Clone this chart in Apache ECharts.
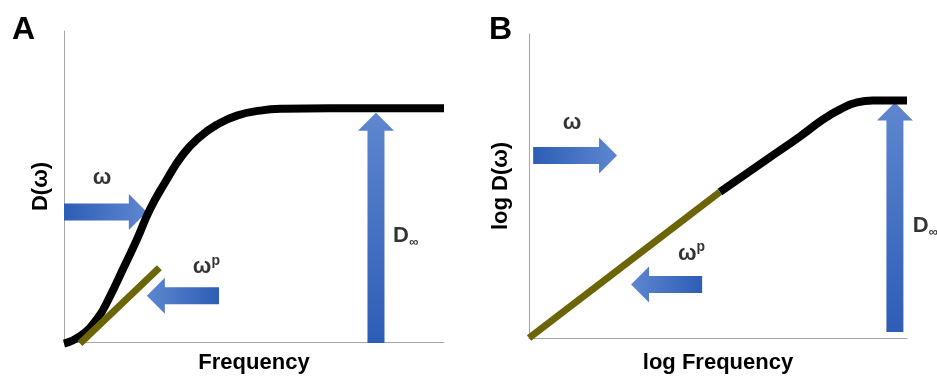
<!DOCTYPE html>
<html><head><meta charset="utf-8">
<script src="https://cdn.jsdelivr.net/npm/echarts@6/dist/echarts.min.js"></script>
<style>html,body{margin:0;padding:0;background:#fff}#c{width:937px;height:379px}</style>
</head><body><div id="c"></div>
<script>
// ---- Panel A : linear axes (arbitrary units 0..100) ----
const curveA = [[0,-0.5],[4.2,1.9],[8.7,7.4],[12.1,14.7],[15.5,23.4],[19.2,33.0],[22.6,42.6],[26.6,51.3],[31.3,60.3],[35.8,66.0],[40.3,69.9],[45.5,72.8],[51.6,74.4],[57.6,75.0],[70,75.2],[100,75.2]];
const tangentA = [[4.2,-0.5],[25.1,23.9]];
// arrows: tail x, tail y, tip x, tip y
const arrowsA = [[0,41.8,21.8,41.8],[40.8,14.9,21.8,14.9],[82.1,-0.3,82.1,73.7]];
const labelNames = ['ω','ωp','D∞'];
const labelPosA = [[10,52.9],[33.9,24.2],[86.6,34.1]];
// ---- Panel B : log-log axes (arbitrary units 0..100) ----
const powerLawB = [[0,0],[50.5,48.0]];
const curveB = [[50.5,48.0],[63.0,58.8],[71.7,66.3],[77.8,71.9],[82.3,75.2],[86.8,77.5],[91.0,78.1],[100,78.1]];
const arrowsB = [[1.1,60,23.3,60],[45.8,17.6,27,17.6],[96.8,2,96.8,77.5]];
const labelPosB = [[11.4,70.9],[39.4,27.8],[101.5,36.9]];
// ---- texts ----
const axisNamesX = ['Frequency','log Frequency'];
const axisNamesY = ['D(ω)','log D(ω)'];
const panelTags = ['A','B'];

const FONT = 'Liberation Sans, Arial, sans-serif';
const chart = echarts.init(document.getElementById('c'), null, {renderer:'canvas'});

function arrowItem(params, api){
  const p0 = api.coord([api.value(0), api.value(1)]);
  const p1 = api.coord([api.value(2), api.value(3)]);
  const dx = p1[0]-p0[0], dy = p1[1]-p0[1];
  const L = Math.hypot(dx,dy);
  const ux = dx/L, uy = dy/L, nx = -uy, ny = ux;
  const sw = 8.5, hw = 18, hl = 18;
  const bx = p1[0]-ux*hl, by = p1[1]-uy*hl;
  const pts = [
    [p0[0]+nx*sw, p0[1]+ny*sw],[bx+nx*sw, by+ny*sw],[bx+nx*hw, by+ny*hw],
    [p1[0], p1[1]],
    [bx-nx*hw, by-ny*hw],[bx-nx*sw, by-ny*sw],[p0[0]-nx*sw, p0[1]-ny*sw]
  ];
  return {
    type:'polygon', shape:{points:pts},
    style:{fill:new echarts.graphic.LinearGradient(p0[0],p0[1],p1[0],p1[1],
      [{offset:0,color:'#2e5db7'},{offset:1,color:'#5e87cf'}], true)}
  };
}

const rich = {
  m:{fontSize:22,fontWeight:'bold',fontFamily:FONT,color:'#000',lineHeight:26},
  sup:{fontSize:14,fontWeight:'bold',fontFamily:FONT,color:'#000',lineHeight:14,verticalAlign:'top'},
  sub:{fontSize:13,fontWeight:'bold',fontFamily:FONT,color:'#000',lineHeight:13,verticalAlign:'bottom'}
};
function fmt(p){
  if (p.name === 'ωp') return '{m|ω}{sup|p}';
  if (p.name === 'D∞') return '{m|D}{sub|∞}';
  return '{m|' + p.name + '}';
}
function labelData(pos){
  return pos.map((v,i)=>({name:labelNames[i], value:v, label:{align: i===0 ? 'center':'left'}}));
}

function axisX(i, name, gap){
  return {gridIndex:i, type:'value', min:0, max:100, name:name, nameLocation:'middle', nameGap:gap,
    nameTextStyle:{fontSize:22,fontWeight:'bold',color:'#000',fontFamily:FONT},
    axisLine:{show:true,onZero:false,lineStyle:{color:'#a6a6a6',width:1}},
    axisTick:{show:false}, axisLabel:{show:false}, splitLine:{show:false}};
}
function axisY(i, name, gap){
  return {gridIndex:i, type:'value', min:0, max:100, name:name, nameLocation:'middle', nameGap:gap,
    nameTextStyle:{fontSize:22,fontWeight:'bold',color:'#000',fontFamily:FONT},
    axisLine:{show:true,onZero:false,lineStyle:{color:'#a6a6a6',width:1}},
    axisTick:{show:false}, axisLabel:{show:false}, splitLine:{show:false}};
}

chart.setOption({
  animation:false,
  backgroundColor:'#fff',
  title:[
    {text:panelTags[0], left:7, top:9, textStyle:{fontSize:32,fontWeight:'bold',color:'#000',fontFamily:FONT}},
    {text:panelTags[1], left:484, top:9, textStyle:{fontSize:32,fontWeight:'bold',color:'#000',fontFamily:FONT}}
  ],
  grid:[
    {left:64, top:31, width:380, height:312},
    {left:529, top:34, width:378, height:306}
  ],
  xAxis:[axisX(0, axisNamesX[0], 10), axisX(1, axisNamesX[1], 14)],
  yAxis:[axisY(0, axisNamesY[0], 12), axisY(1, axisNamesY[1], 17)],
  series:[
    {type:'line', xAxisIndex:0, yAxisIndex:0, data:curveA, showSymbol:false, smooth:0.5, clip:false,
      lineStyle:{color:'#000', width:8}, silent:true},
    {type:'line', xAxisIndex:0, yAxisIndex:0, data:tangentA, showSymbol:false, clip:false,
      lineStyle:{color:'#6b6508', width:7}, silent:true},
    {type:'custom', xAxisIndex:0, yAxisIndex:0, data:arrowsA, renderItem:arrowItem, encode:{x:[0,2],y:[1,3]}, clip:false, silent:true},
    {type:'scatter', xAxisIndex:0, yAxisIndex:0, symbolSize:0, data:labelData(labelPosA), clip:false, silent:true,
      label:{show:true, position:'inside', verticalAlign:'middle', formatter:fmt, rich:rich}},

    {type:'line', xAxisIndex:1, yAxisIndex:1, data:curveB, showSymbol:false, smooth:0.5, clip:false,
      lineStyle:{color:'#000', width:8}, silent:true},
    {type:'line', xAxisIndex:1, yAxisIndex:1, data:powerLawB, showSymbol:false, clip:false,
      lineStyle:{color:'#6b6508', width:7}, silent:true},
    {type:'custom', xAxisIndex:1, yAxisIndex:1, data:arrowsB, renderItem:arrowItem, encode:{x:[0,2],y:[1,3]}, clip:false, silent:true},
    {type:'scatter', xAxisIndex:1, yAxisIndex:1, symbolSize:0, data:labelData(labelPosB), clip:false, silent:true,
      label:{show:true, position:'inside', verticalAlign:'middle', formatter:fmt, rich:rich}}
  ]
});
</script></body></html>
